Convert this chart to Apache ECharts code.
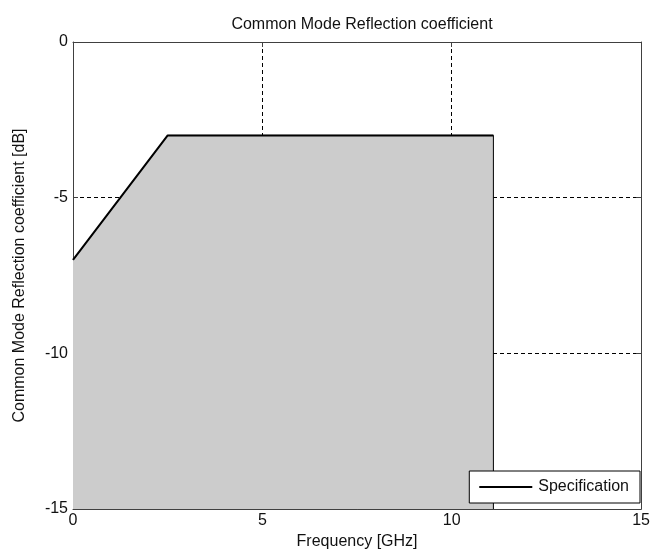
<!DOCTYPE html>
<html>
<head>
<meta charset="utf-8">
<script src="https://cdn.jsdelivr.net/npm/echarts@6/dist/echarts.min.js"></script>
<style>
  html, body { margin: 0; padding: 0; background: #fff; }
  #chart { width: 653px; height: 556px; }
</style>
</head>
<body>
<div id="chart"></div>
<script>
// Specification mask: frequency (GHz) vs. common mode reflection limit (dB)
const specFreq = [0, 2.5, 11.1];
const specDb = [-7, -3, -3];
// Shaded region under the mask, closed down to the bottom of the axis
const regionFreq = [0, 2.5, 11.1, 11.1];
const regionDb = [-7, -3, -3, -15];

const xTicks = [0, 5, 10, 15];
const yTicks = [-15, -10, -5, 0];

const font = 'Liberation Sans, Arial, sans-serif';
const fs = 16;
const axisColor = '#404040';
const textColor = '#111';

const chart = echarts.init(document.getElementById('chart'), null, { renderer: 'canvas' });

const baseAxis = {
  axisLine: { show: true, onZero: false, lineStyle: { color: axisColor, width: 1 } },
  axisTick: { show: true, inside: true, length: 5, lineStyle: { color: axisColor } },
  axisLabel: { color: textColor, fontSize: fs, fontFamily: font },
  splitLine: { show: false }
};

chart.setOption({
  backgroundColor: '#ffffff',
  animation: false,
  title: {
    text: 'Common Mode Reflection coefficient',
    left: 357, top: 12, textAlign: 'center',
    textStyle: { fontSize: fs, fontWeight: 'normal', color: textColor, fontFamily: font }
  },
  legend: {
    data: [{ name: 'Specification', icon: 'rect' }],
    right: 13, bottom: 53,
    orient: 'vertical',
    backgroundColor: '#ffffff',
    borderColor: '#000', borderWidth: 1,
    padding: [8, 11, 8, 10],
    itemWidth: 53, itemHeight: 2, itemGap: 0,
    textStyle: { fontSize: fs, color: textColor, fontFamily: font, padding: [0, 0, 0, 1] }
  },
  grid: { left: 73, right: 8, top: 42, bottom: 47, containLabel: false },
  xAxis: [
    Object.assign({}, baseAxis, {
      type: 'value', min: xTicks[0], max: xTicks[xTicks.length - 1], interval: 5,
      position: 'bottom',
      name: 'Frequency [GHz]', nameLocation: 'middle', nameGap: 24,
      nameTextStyle: { fontSize: fs, color: textColor, fontFamily: font },
      axisLabel: { color: textColor, fontSize: fs, fontFamily: font, margin: 4 },
      splitLine: { show: true, lineStyle: { color: '#000', type: [4, 3], width: 1 } }
    }),
    Object.assign({}, baseAxis, {
      type: 'value', min: xTicks[0], max: xTicks[xTicks.length - 1], interval: 5,
      position: 'top', axisLabel: { show: false }
    })
  ],
  yAxis: [
    Object.assign({}, baseAxis, {
      type: 'value', min: yTicks[0], max: yTicks[yTicks.length - 1], interval: 5,
      position: 'left',
      name: 'Common Mode Reflection coefficient [dB]', nameLocation: 'middle', nameGap: 45,
      nameTextStyle: { fontSize: fs, color: textColor, fontFamily: font },
      axisLabel: { color: textColor, fontSize: fs, fontFamily: font, margin: 5 },
      splitLine: { show: true, lineStyle: { color: '#000', type: [4, 3], width: 1 } }
    }),
    Object.assign({}, baseAxis, {
      type: 'value', min: yTicks[0], max: yTicks[yTicks.length - 1], interval: 5,
      position: 'right', axisLabel: { show: false }
    })
  ],
  series: [
    {
      name: 'region',
      type: 'line',
      data: regionFreq.map((f, i) => [f, regionDb[i]]),
      symbol: 'none',
      lineStyle: { color: '#000', width: 1 },
      areaStyle: { color: '#cccccc', opacity: 1, origin: 'start' },
      silent: true,
      z: 2
    },
    {
      name: 'Specification',
      type: 'line',
      data: specFreq.map((f, i) => [f, specDb[i]]),
      symbol: 'none',
      color: '#000',
      lineStyle: { color: '#000', width: 2 },
      z: 3
    }
  ]
});
</script>
</body>
</html>
